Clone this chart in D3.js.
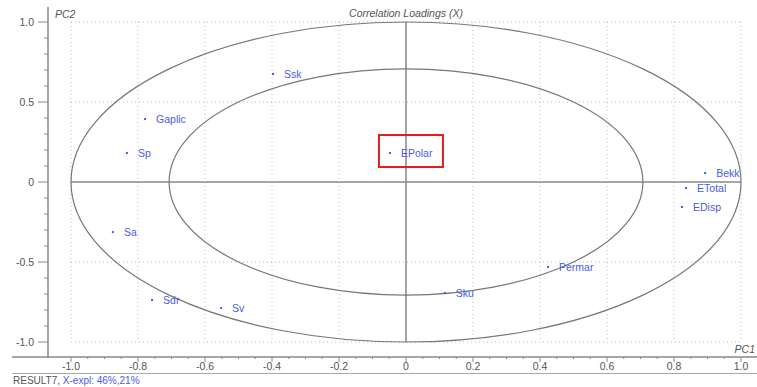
<!DOCTYPE html>
<html>
<head>
<meta charset="utf-8">
<script src="https://cdn.jsdelivr.net/npm/d3@7"></script>
<style>
  body { margin: 0; background: #fff; }
  svg { display: block; font-family: Arial, "Liberation Sans", sans-serif; }
</style>
</head>
<body>
<div id="chart"></div>
<script>
// loadings
const variables = ["Ssk", "Gaplic", "Sp", "EPolar", "Bekk", "ETotal", "EDisp", "Sa", "Sdr", "Sv", "Sku", "Permar"];
const pc1 = [-0.397, -0.779, -0.833, -0.048, 0.893, 0.836, 0.824, -0.875, -0.758, -0.552, 0.116, 0.424];
const pc2 = [0.675, 0.394, 0.181, 0.181, 0.056, -0.038, -0.156, -0.313, -0.738, -0.788, -0.694, -0.531];

const xTicks = [-1.0, -0.8, -0.6, -0.4, -0.2, 0, 0.2, 0.4, 0.6, 0.8, 1.0];
const yTicks = [1.0, 0.5, 0, -0.5, -1.0];
const highlighted = "EPolar";

const width = 757, height = 387;

let x = d3.scaleLinear().domain([-1, 1]).range([71, 741]);
let y = d3.scaleLinear().domain([-1, 1]).range([342, 22]);

let svg = d3.select("#chart").append("svg")
    .attr("width", width)
    .attr("height", height);

const AXIS_COLOR = "#888";
const TEXT_COLOR = "#555";
const POINT_COLOR = "#4a5ae8";

// dotted grid
let grid = svg.append("g");
grid.selectAll(".vgrid")
    .data(xTicks)
    .enter()
    .append("line")
    .attr("x1", d => x(d)).attr("x2", d => x(d))
    .attr("y1", y(1)).attr("y2", y(-1))
    .attr("stroke", "#bbb")
    .attr("stroke-dasharray", "1,3");
grid.selectAll(".hgrid")
    .data(yTicks.filter(d => d !== 0))
    .enter()
    .append("line")
    .attr("x1", x(-1)).attr("x2", x(1))
    .attr("y1", d => y(d)).attr("y2", d => y(d))
    .attr("stroke", "#bbb")
    .attr("stroke-dasharray", "1,3");

// zero lines
svg.append("line")
    .attr("x1", x(-1)).attr("x2", x(1))
    .attr("y1", y(0)).attr("y2", y(0))
    .attr("stroke", AXIS_COLOR).attr("stroke-width", 1.5);
svg.append("line")
    .attr("x1", x(0)).attr("x2", x(0))
    .attr("y1", y(1)).attr("y2", y(-1))
    .attr("stroke", AXIS_COLOR).attr("stroke-width", 1.5);

// correlation ellipses (100% and 50% explained variance)
[1, Math.sqrt(0.5)].forEach(r => {
    svg.append("ellipse")
        .attr("cx", x(0)).attr("cy", y(0))
        .attr("rx", x(r) - x(0))
        .attr("ry", y(0) - y(r))
        .attr("fill", "none")
        .attr("stroke", "#777")
        .attr("stroke-width", 1.2);
});

// left axis
const leftX = 48;
svg.append("line")
    .attr("x1", leftX).attr("x2", leftX)
    .attr("y1", 7).attr("y2", 358)
    .attr("stroke", AXIS_COLOR).attr("stroke-width", 1.5);
let yMinor = d3.range(-10, 11).map(i => i / 10);
svg.selectAll(".ytick")
    .data(yMinor)
    .enter()
    .append("line")
    .attr("x1", d => Math.abs(d * 2 - Math.round(d * 2)) < 1e-9 ? leftX - 10 : leftX - 4)
    .attr("x2", leftX)
    .attr("y1", d => y(d)).attr("y2", d => y(d))
    .attr("stroke", AXIS_COLOR);
svg.selectAll(".ylabel")
    .data(yTicks)
    .enter()
    .append("text")
    .attr("x", leftX - 14)
    .attr("y", d => y(d))
    .attr("dy", "0.35em")
    .attr("text-anchor", "end")
    .attr("font-size", 10.5)
    .attr("fill", TEXT_COLOR)
    .text(d => d === 0 ? "0" : d.toFixed(1));

// bottom axis
const bottomY = 357;
svg.append("line")
    .attr("x1", 12).attr("x2", width)
    .attr("y1", bottomY).attr("y2", bottomY)
    .attr("stroke", AXIS_COLOR).attr("stroke-width", 1.5);
let xMinor = d3.range(-20, 21).map(i => i / 20);
svg.selectAll(".xtick")
    .data(xMinor)
    .enter()
    .append("line")
    .attr("x1", d => x(d)).attr("x2", d => x(d))
    .attr("y1", bottomY)
    .attr("y2", d => Math.abs(d * 5 - Math.round(d * 5)) < 1e-9 ? bottomY + 5 : bottomY + 2)
    .attr("stroke", AXIS_COLOR);
svg.selectAll(".xlabel")
    .data(xTicks)
    .enter()
    .append("text")
    .attr("x", d => x(d))
    .attr("y", 370)
    .attr("text-anchor", "middle")
    .attr("font-size", 10.5)
    .attr("fill", TEXT_COLOR)
    .text(d => d === 0 ? "0" : d.toFixed(1));

svg.append("line")
    .attr("x1", 12).attr("x2", width)
    .attr("y1", 373.5).attr("y2", 373.5)
    .attr("stroke", "#aaa");

// titles
svg.append("text")
    .attr("x", x(0)).attr("y", 17)
    .attr("text-anchor", "middle")
    .attr("font-size", 10.5)
    .attr("font-style", "italic")
    .attr("fill", TEXT_COLOR)
    .text("Correlation Loadings (X)");
svg.append("text")
    .attr("x", 55).attr("y", 18)
    .attr("font-size", 10.5)
    .attr("font-style", "italic")
    .attr("fill", TEXT_COLOR)
    .text("PC2");
svg.append("text")
    .attr("x", 755).attr("y", 353)
    .attr("text-anchor", "end")
    .attr("font-size", 10.5)
    .attr("font-style", "italic")
    .attr("fill", TEXT_COLOR)
    .text("PC1");

let footer = svg.append("text")
    .attr("x", 13).attr("y", 384)
    .attr("font-size", 10);
footer.append("tspan").attr("fill", TEXT_COLOR).text("RESULT7, ");
footer.append("tspan").attr("fill", POINT_COLOR).text("X-expl: 46%,21%");

// points
let points = variables.map((name, i) => ({ name: name, pc1: pc1[i], pc2: pc2[i] }));

svg.append("g").selectAll(".dot")
    .data(points)
    .enter()
    .append("rect")
    .attr("x", d => x(d.pc1) - 1)
    .attr("y", d => y(d.pc2) - 1)
    .attr("width", 2).attr("height", 2)
    .attr("fill", POINT_COLOR);

svg.append("g").selectAll(".label")
    .data(points)
    .enter()
    .append("text")
    .attr("x", d => x(d.pc1) + 11)
    .attr("y", d => y(d.pc2))
    .attr("dy", "0.35em")
    .attr("font-size", 10.5)
    .attr("fill", POINT_COLOR)
    .text(d => d.name);

// red box around the highlighted variable
let hp = points.find(p => p.name === highlighted);
svg.append("rect")
    .attr("x", x(hp.pc1) - 11)
    .attr("y", y(hp.pc2) - 18)
    .attr("width", 64)
    .attr("height", 32)
    .attr("fill", "none")
    .attr("stroke", "#e21b1b")
    .attr("stroke-width", 2);
</script>
</body>
</html>
